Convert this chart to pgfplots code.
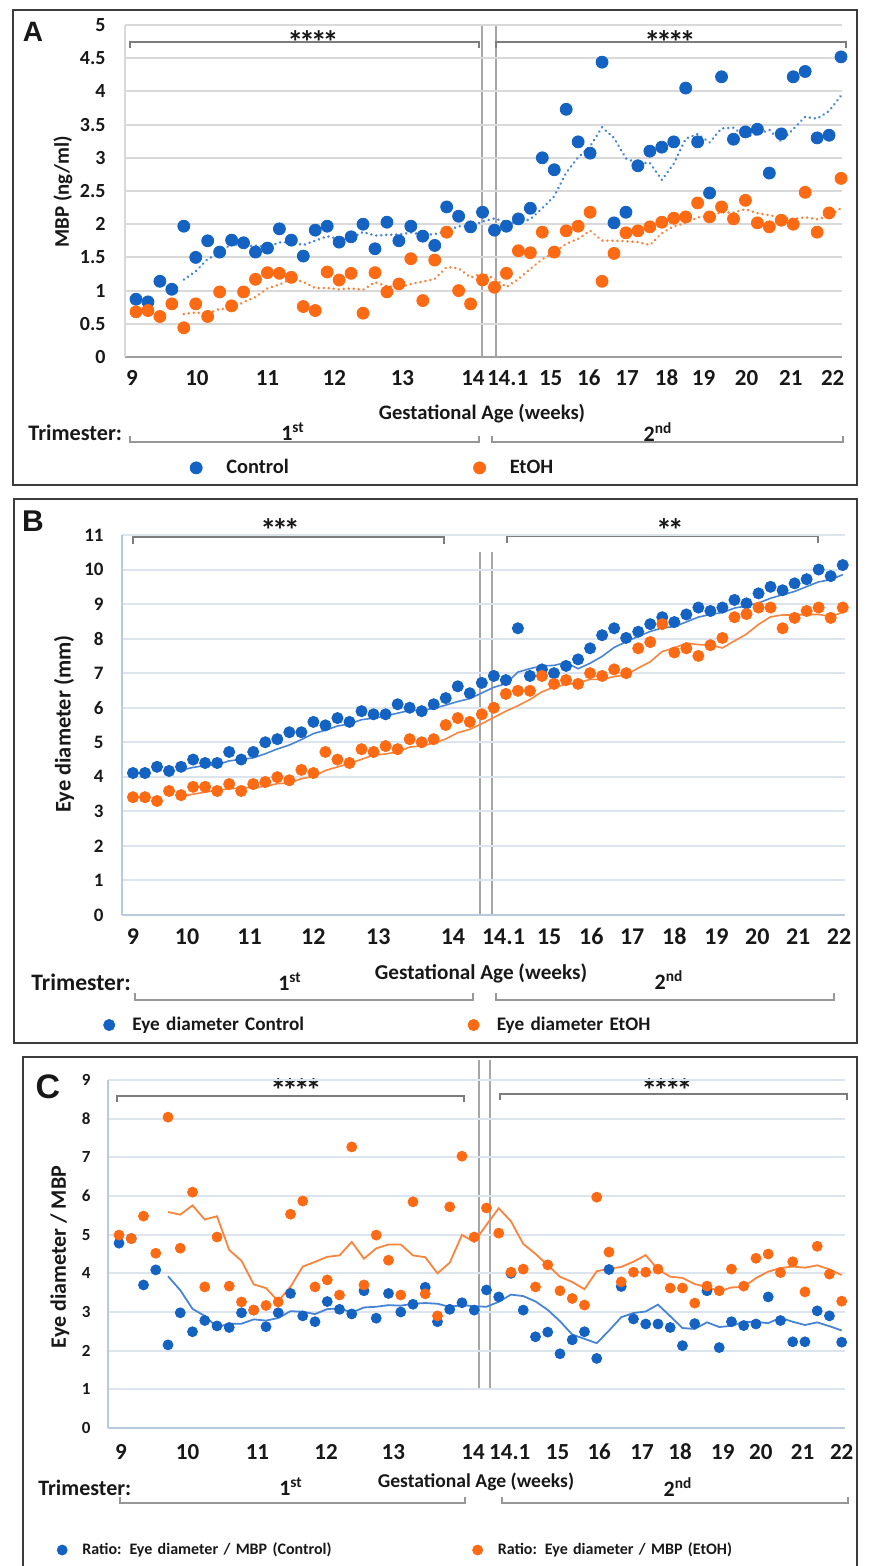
\documentclass[border=0pt]{standalone}
\usepackage{pgfplots}
\pgfplotsset{compat=1.18}
\usepackage{pgfplotstable}
\usepackage{fontspec}
\setmainfont{Carlito}
\newfontfamily\arialfont{Liberation Sans}
\definecolor{cblue}{RGB}{20,98,194}
\definecolor{corange}{RGB}{253,106,20}
\definecolor{tblue}{RGB}{72,132,212}
\definecolor{torange}{RGB}{248,132,62}
\definecolor{gridA}{RGB}{217,217,217}
\definecolor{gridB}{RGB}{220,228,238}
\definecolor{axB}{RGB}{184,202,222}
\definecolor{brk}{RGB}{125,125,125}
\definecolor{frm}{RGB}{60,60,60}
\definecolor{txt}{RGB}{24,24,24}
\definecolor{vl}{RGB}{165,165,170}
\newcommand{\stars}[1]{\ifcase#1\or *\or *\kern-2.1pt*\or *\kern-2.1pt*\kern-2.1pt*\or *\kern-2.1pt*\kern-2.1pt*\kern-2.1pt*\fi}
\tikzset{starfont/.style={anchor=base, inner sep=0pt, font=\bfseries\fontsize{16}{16}\selectfont, text=txt}}

\pgfplotstableread{
idx cM eM cE eE cR eR tcM teM tcE teE tcR teR
0 0.87 0.68 4.11 3.41 4.78 4.99 nan nan nan nan nan nan
1 0.83 0.70 4.11 3.41 4.90 4.90 nan nan nan nan nan nan
2 1.14 0.61 4.29 3.30 3.70 5.48 nan nan nan nan nan nan
3 1.02 0.80 4.17 3.59 4.09 4.52 nan nan nan nan nan nan
4 1.97 0.44 4.29 3.47 2.15 8.04 1.166 0.646 4.194 3.436 3.924 5.586
5 1.50 0.80 4.50 3.71 2.98 4.65 1.292 0.670 4.272 3.496 3.564 5.518
6 1.75 0.61 4.40 3.71 2.49 6.10 1.476 0.652 4.330 3.556 3.082 5.758
7 1.58 0.98 4.40 3.59 2.78 3.65 1.564 0.726 4.352 3.614 2.898 5.392
8 1.76 0.77 4.72 3.79 2.64 4.94 1.712 0.720 4.462 3.654 2.608 5.476
9 1.72 0.98 4.50 3.59 2.60 3.67 1.662 0.828 4.504 3.678 2.698 4.602
10 1.58 1.17 4.72 3.79 2.98 3.26 1.678 0.902 4.548 3.694 2.698 4.324
11 1.64 1.27 5.00 3.85 3.05 3.05 1.656 1.034 4.668 3.722 2.810 3.714
12 1.93 1.26 5.09 3.99 2.62 3.17 1.726 1.090 4.806 3.802 2.778 3.618
13 1.76 1.20 5.29 3.90 2.98 3.26 1.726 1.176 4.920 3.824 2.846 3.282
14 1.52 0.76 5.29 4.20 3.48 5.53 1.686 1.132 5.078 3.946 3.022 3.654
15 1.91 0.70 5.59 4.11 2.90 5.87 1.752 1.038 5.252 4.010 3.006 4.176
16 1.97 1.28 5.49 4.72 2.75 3.65 1.818 1.040 5.350 4.184 2.946 4.296
17 1.73 1.16 5.70 4.50 3.27 3.83 1.778 1.020 5.472 4.286 3.076 4.428
18 1.81 1.26 5.59 4.40 3.07 3.44 1.788 1.032 5.532 4.386 3.094 4.464
19 2.00 0.66 5.90 4.80 2.95 7.27 1.884 1.012 5.654 4.506 2.988 4.812
20 1.63 1.27 5.81 4.72 3.55 3.70 1.828 1.126 5.698 4.628 3.118 4.378
21 2.03 0.98 5.81 4.89 2.84 4.99 1.840 1.066 5.762 4.662 3.136 4.646
22 1.75 1.10 6.10 4.80 3.48 4.34 1.844 1.054 5.842 4.722 3.178 4.748
23 1.97 1.48 6.00 5.09 3.00 3.44 1.876 1.098 5.924 4.860 3.164 4.748
24 1.82 0.85 5.90 5.00 3.20 5.85 1.840 1.136 5.924 4.900 3.214 4.464
25 1.68 1.46 6.10 5.09 3.64 3.47 1.850 1.174 5.982 4.974 3.232 4.418
26 2.26 1.88 6.28 5.50 2.75 2.90 1.896 1.354 6.076 5.096 3.214 4.000
27 2.12 1.00 6.62 5.70 3.07 5.72 1.970 1.334 6.180 5.276 3.132 4.276
28 1.96 0.80 6.42 5.59 3.24 7.03 1.968 1.198 6.264 5.376 3.180 4.994
29 2.18 1.16 6.72 5.81 3.05 4.94 2.040 1.260 6.428 5.538 3.150 4.812
30 1.91 1.05 6.92 6.00 3.57 5.69 2.086 1.178 6.592 5.720 3.136 5.256
31 1.97 1.26 6.80 6.40 3.39 5.04 2.028 1.054 6.696 5.900 3.264 5.684
32 2.08 1.60 8.30 6.49 4.00 4.03 2.020 1.174 7.032 6.058 3.450 5.346
33 2.24 1.57 6.92 6.49 3.05 4.11 2.076 1.328 7.132 6.238 3.412 4.762
34 3.00 1.88 7.11 6.92 2.36 3.65 2.240 1.472 7.210 6.460 3.274 4.504
35 2.82 1.58 7.00 6.69 2.48 4.22 2.422 1.578 7.226 6.598 3.056 4.210
36 3.73 1.90 7.21 6.80 1.92 3.55 2.774 1.706 7.308 6.678 2.762 3.912
37 3.24 1.97 7.40 6.69 2.28 3.35 3.006 1.780 7.128 6.718 2.418 3.776
38 3.07 2.18 7.72 7.00 2.49 3.18 3.172 1.902 7.288 6.820 2.306 3.590
39 4.44 1.14 8.10 6.92 1.80 5.97 3.460 1.754 7.486 6.820 2.194 4.054
40 2.02 1.56 8.30 7.11 4.10 4.55 3.300 1.750 7.746 6.904 2.518 4.120
41 2.18 1.87 8.02 7.00 3.66 3.78 2.990 1.744 7.908 6.944 2.866 4.166
42 2.88 1.90 8.20 7.72 2.82 4.03 2.918 1.730 8.068 7.150 2.974 4.302
43 3.10 1.96 8.42 7.90 2.69 4.03 2.924 1.686 8.208 7.330 3.014 4.472
44 3.16 2.03 8.62 8.42 2.69 4.11 2.668 1.864 8.312 7.630 3.192 4.100
45 3.24 2.09 8.48 7.60 2.60 3.62 2.912 1.970 8.348 7.728 2.892 3.914
46 4.05 2.11 8.70 7.72 2.13 3.62 3.286 2.018 8.484 7.872 2.586 3.882
47 3.24 2.32 8.90 7.50 2.70 3.23 3.358 2.102 8.624 7.828 2.562 3.722
48 2.47 2.11 8.80 7.81 3.55 3.67 3.232 2.132 8.700 7.810 2.734 3.650
49 4.22 2.26 8.90 8.02 2.08 3.55 3.444 2.178 8.756 7.730 2.612 3.538
50 3.28 2.08 9.12 8.62 2.75 4.11 3.452 2.176 8.884 7.934 2.642 3.636
51 3.39 2.36 9.02 8.71 2.65 3.67 3.320 2.226 8.948 8.132 2.746 3.646
52 3.43 2.02 9.31 8.90 2.69 4.39 3.358 2.166 9.030 8.412 2.744 3.878
53 2.77 1.96 9.50 8.90 3.39 4.50 3.418 2.136 9.170 8.630 2.712 4.044
54 3.36 2.06 9.40 8.30 2.78 4.02 3.246 2.096 9.270 8.686 2.852 4.138
55 4.22 2.00 9.60 8.60 2.23 4.30 3.434 2.080 9.366 8.682 2.748 4.176
56 4.30 2.48 9.72 8.80 2.23 3.52 3.616 2.104 9.506 8.700 2.664 4.146
57 3.30 1.88 10.00 8.90 3.03 4.70 3.590 2.076 9.644 8.700 2.732 4.208
58 3.34 2.17 9.81 8.60 2.90 3.98 3.704 2.118 9.706 8.640 2.634 4.104
59 4.52 2.69 10.13 8.90 2.22 3.28 3.936 2.244 9.852 8.760 2.522 3.956
}\data

\pgfplotsset{
  panel/.style={
    scale only axis, clip=false,
    axis x line*=bottom, axis y line*=left,
    axis line style={-},
    xtick style={draw=none}, ytick style={draw=none},
    major tick length=0pt,
    ymajorgrids,
    /pgf/number format/assume math mode=true,
    xticklabels={9,10,11,12,13,14,14.1,15,16,17,18,19,20,21,22},
    xticklabel style={anchor=base, inner sep=0pt, text=txt},
    yticklabel style={anchor=east, inner sep=0pt, text=txt},
    legend columns=2,
    legend image code/.code={\draw[##1] plot coordinates {(0pt,0pt)};},
  },
  dotsB/.style={only marks, mark=*, color=cblue, mark options={draw=cblue, fill=cblue}},
  dotsO/.style={only marks, mark=*, color=corange, mark options={draw=corange, fill=corange}},
}

\begin{document}
\begin{tikzpicture}
\begin{scope}[x=0.5pt,y=-0.5pt]
\useasboundingbox (0,0) rectangle (859,1566);
% ---------------- Panel A decorations
\draw[frm, line width=1.2pt] (13,10) rectangle (857,485);
\node[font=\arialfont\bfseries\fontsize{14}{14}\selectfont, text=txt] at (33,32) {A};
\draw[vl, line width=0.6pt] (482,25) -- (482,357);
\draw[vl, line width=0.6pt] (496,25) -- (496,357);
\draw[brk, line width=0.6pt] (130,48) -- (130,42) -- (479,42) -- (479,48);
\draw[brk, line width=0.6pt] (496,48) -- (496,42) -- (846,42) -- (846,48);
\node[starfont] at (313,54) {\stars{4}};
\node[starfont] at (670,54) {\stars{4}};
\node[rotate=90, font=\bfseries\fontsize{10.4}{12}\selectfont, text=txt] at (63,192) {MBP (ng/ml)};
\node[font=\bfseries\fontsize{10.3}{12}\selectfont, text=txt] at (482,414) {Gestational Age (weeks)};
\node[anchor=west, inner sep=0pt, font=\bfseries\fontsize{11.1}{12}\selectfont, text=txt] at (28,433) {Trimester:};
\draw[brk!80, line width=0.6pt] (130,436) -- (130,442) -- (479,442) -- (479,436);
\draw[brk!80, line width=0.6pt] (492,436) -- (492,442) -- (843,442) -- (843,436);
\node[font=\bfseries\fontsize{11}{12}\selectfont, text=txt] at (293,432) {1\textsuperscript{st}};
\node[font=\bfseries\fontsize{11}{12}\selectfont, text=txt] at (658,432) {2\textsuperscript{nd}};
% ---------------- Panel B decorations
\draw[frm, line width=1.2pt] (14,499) rectangle (857,1043);
\node[font=\arialfont\bfseries\fontsize{15}{15}\selectfont, text=txt] at (33,521) {B};
\draw[vl, line width=0.6pt] (480,552) -- (480,915);
\draw[vl, line width=0.6pt] (492,552) -- (492,915);
\draw[brk, line width=0.6pt] (133,544) -- (133,537) -- (444,537) -- (444,544);
\draw[brk, line width=0.6pt] (507,543) -- (507,536) -- (818,536) -- (818,543);
\node[starfont] at (280,541) {\stars{3}};
\node[starfont] at (670,541) {\stars{2}};
\node[rotate=90, font=\bfseries\fontsize{11.2}{12}\selectfont, text=txt] at (64,724) {Eye diameter (mm)};
\node[font=\bfseries\fontsize{10.6}{12}\selectfont, text=txt] at (481,973) {Gestational Age (weeks)};
\node[anchor=west, inner sep=0pt, font=\bfseries\fontsize{11.8}{12}\selectfont, text=txt] at (31,982) {Trimester:};
\draw[brk!80, line width=0.6pt] (135,993) -- (135,1000) -- (473,1000) -- (473,993);
\draw[brk!80, line width=0.6pt] (496,993) -- (496,1000) -- (834,1000) -- (834,993);
\node[font=\bfseries\fontsize{11}{12}\selectfont, text=txt] at (290,982) {1\textsuperscript{st}};
\node[font=\bfseries\fontsize{11}{12}\selectfont, text=txt] at (669,980) {2\textsuperscript{nd}};
% ---------------- Panel C decorations
\draw[frm, line width=1.2pt] (23,1600) -- (23,1057) -- (857,1057) -- (857,1600);
\node[font=\arialfont\bfseries\fontsize{17}{17}\selectfont, text=txt] at (48,1087) {C};
\draw[vl, line width=0.6pt] (479,1060) -- (479,1390);
\draw[vl, line width=0.6pt] (490,1060) -- (490,1390);
\draw[brk, line width=0.6pt] (117,1102) -- (117,1096) -- (464,1096) -- (464,1102);
\draw[brk, line width=0.6pt] (500,1100) -- (500,1094) -- (847,1094) -- (847,1100);
\node[starfont] at (296,1101) {\stars{4}};
\node[starfont] at (667,1101) {\stars{4}};
\node[rotate=90, font=\bfseries\fontsize{11}{12}\selectfont, text=txt] at (60,1257) {Eye diameter / MBP};
\node[font=\bfseries\fontsize{9.8}{12}\selectfont, text=txt] at (476,1482) {Gestational Age (weeks)};
\node[anchor=west, inner sep=0pt, font=\bfseries\fontsize{11}{12}\selectfont, text=txt] at (38,1488) {Trimester:};
\draw[brk!80, line width=0.6pt] (120,1497) -- (120,1503) -- (465,1503) -- (465,1497);
\draw[brk!80, line width=0.6pt] (502,1497) -- (502,1503) -- (848,1503) -- (848,1497);
\node[font=\bfseries\fontsize{11}{12}\selectfont, text=txt] at (291,1487) {1\textsuperscript{st}};
\node[font=\bfseries\fontsize{11}{12}\selectfont, text=txt] at (678,1487) {2\textsuperscript{nd}};
\end{scope}

% ================= Panel A
\begin{axis}[panel,
  at={(62.5pt,-178.5pt)}, anchor=south west, width=358.5pt, height=166pt,
  xmin=-0.92, xmax=59.08, ymin=0, ymax=5, ytick={0,0.5,...,5},
  xtick={-0.33,5.1,11.0,16.6,22.3,28.2,31.1,34.7,37.9,41.1,44.4,47.5,51.1,54.8,58.3},
  major grid style={draw=gridA, line width=1pt},
  x axis line style={draw=gray!75, line width=1pt},
  y axis line style={draw=gridA, line width=1pt},
  xticklabel style={yshift=-14.15pt, font=\bfseries\fontsize{11.5}{12}\selectfont},
  yticklabel style={xshift=-9.5pt, font=\bfseries\fontsize{10}{12}\selectfont},
  legend style={draw=none, fill=none, at={(0.0909,-0.334)}, anchor=west, inner sep=0pt, outer sep=0pt,
    font=\bfseries\fontsize{10.2}{12}\selectfont, text=txt,
    nodes={inner sep=0pt, text width=123.6pt, align=left},
    /tikz/every odd column/.append style={column sep=12.1pt}},
]
\addplot[dotsB, mark size=3pt] table[x=idx,y=cM]{\data};
\addlegendentry{Control}
\addplot[dotsO, mark size=3pt] table[x=idx,y=eM]{\data};
\addlegendentry{EtOH}
\addplot[tblue, line width=1.4pt, line cap=round, dash pattern=on 0.01pt off 2.5pt, forget plot] table[x=idx,y=tcM]{\data};
\addplot[torange, line width=1.4pt, line cap=round, dash pattern=on 0.01pt off 2.5pt, forget plot] table[x=idx,y=teM]{\data};
\end{axis}

% ================= Panel B
\begin{axis}[panel,
  at={(61pt,-457.5pt)}, anchor=south west, width=361.5pt, height=190pt,
  xmin=-0.91, xmax=59.19, ymin=0, ymax=11, ytick={0,1,...,11},
  xtick={0,4.5,9.7,15.0,20.4,26.6,30.8,34.6,38.1,41.5,45.0,48.5,51.9,55.3,58.7},
  major grid style={draw=gridB, line width=1pt},
  axis line style={draw=axB, line width=1pt},
  xticklabel style={yshift=-14.75pt, font=\bfseries\fontsize{12}{12}\selectfont},
  yticklabel style={xshift=-9pt, font=\bfseries\fontsize{9.5}{12}\selectfont},
  legend style={draw=none, fill=none, at={(-0.0254,-0.2895)}, anchor=west, inner sep=0pt, outer sep=0pt,
    font=\bfseries\fontsize{9.6}{12}\selectfont, text=txt,
    nodes={inner sep=0pt, text width=167.8pt, align=left},
    /tikz/every odd column/.append style={column sep=8.8pt}},
]
\addplot[dotsB, mark size=2.8pt] table[x=idx,y=cE]{\data};
\addlegendentry{Eye diameter Control}
\addplot[dotsO, mark size=2.8pt] table[x=idx,y=eE]{\data};
\addlegendentry{Eye diameter EtOH}
\addplot[tblue, line width=0.8pt, forget plot] table[x=idx,y=tcE]{\data};
\addplot[torange, line width=0.8pt, forget plot] table[x=idx,y=teE]{\data};
\end{axis}

% ================= Panel C
\begin{axis}[panel,
  at={(54pt,-714pt)}, anchor=south west, width=368.5pt, height=174pt,
  xmin=-0.9, xmax=59.27, ymin=0, ymax=9, ytick={0,1,...,9},
  xtick={0.16,5.6,11.3,16.9,22.4,28.9,31.9,35.8,39.2,42.7,45.8,49.3,52.4,55.8,59.0},
  major grid style={draw=gridB, line width=1pt},
  axis line style={draw=axB, line width=1pt},
  xticklabel style={yshift=-15.65pt, font=\bfseries\fontsize{11.5}{12}\selectfont},
  yticklabel style={xshift=-8.5pt, font=\bfseries\fontsize{8.5}{12}\selectfont},
  legend style={draw=none, fill=none, at={(-0.0689,-0.3506)}, anchor=west, inner sep=0pt, outer sep=0pt,
    font=\bfseries\fontsize{8}{10}\selectfont, text=txt,
    nodes={inner sep=0pt, text width=195.1pt, align=left},
    /tikz/every odd column/.append style={column sep=7.6pt}},
]
\addplot[dotsB, mark size=2.5pt] table[x=idx,y=cR]{\data};
\addlegendentry{Ratio: Eye diameter / MBP (Control)}
\addplot[dotsO, mark size=2.5pt] table[x=idx,y=eR]{\data};
\addlegendentry{Ratio: Eye diameter / MBP (EtOH)}
\addplot[tblue, line width=0.9pt, forget plot] table[x=idx,y=tcR]{\data};
\addplot[torange, line width=0.9pt, forget plot] table[x=idx,y=teR]{\data};
\end{axis}
\end{tikzpicture}
\end{document}
